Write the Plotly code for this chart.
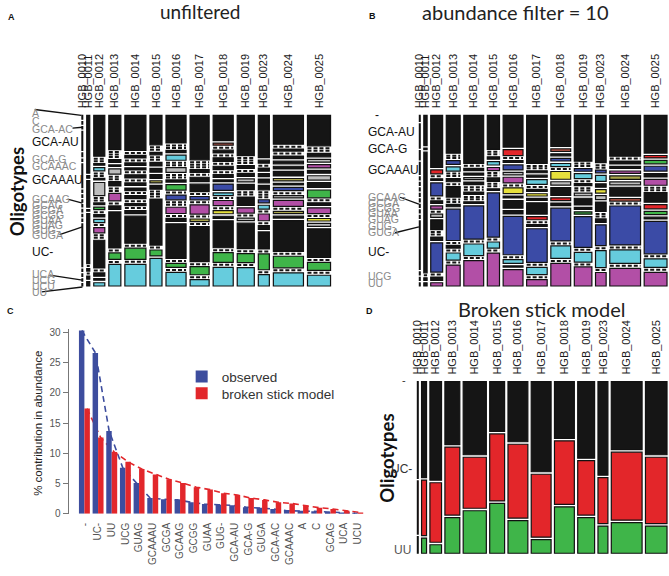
import plotly.graph_objects as go

W, H = 669, 576
FONT = "Liberation Sans, Arial, sans-serif"
TFONT = "Lato, Calibri, sans-serif"

# ---------------- data ----------------
samples = ["HGB_0010", "HGB_0011", "HGB_0012", "HGB_0013", "HGB_0014", "HGB_0015", "HGB_0016",
           "HGB_0017", "HGB_0018", "HGB_0019", "HGB_0023", "HGB_0024", "HGB_0025"]

# relative sample sizes (column widths of the mosaics)
size_A = [0.8, 3, 11, 12, 21, 12, 20, 19, 20, 17, 11, 30, 23]
size_B = [0.8, 3.3, 12, 14, 20, 12.3, 20, 20.7, 20, 17.7, 10.7, 31, 23]
size_D = [0.8, 5, 11.7, 15, 23.3, 15, 20, 20, 20, 17, 10, 31, 21.7]

# cell abundances per column, top to bottom; letter = shading class, z = empty cell
cells_A = [
    "k8 k5 k5 k40 k8 k5 k50 k5 k5 k5 k5 k5 k5 k5 k90 k5 k5 k5 k5",
    "k185 k8 k85 k5 k160 z k8 z k10 k14",
    "k125 z z k5 c10 z z k5 s40 z z k5 g8 z k7 c10 z m16 z z k85 z k10 k5 c10",
    "k95 z z z k8 k4 s15 z z k12 z z m21 z k10 k100 z g18 z c60",
    "k110 z k8 z k8 k6 z k10 z k8 k8 z k10 z k6 z k10 k85 z g35 z c68",
    "k80 z z k7 z z k10 k10 k10 o6 k10 z z z k125 z g16 c75",
    "k75 z z k6 c14 z z s13 z z k6 g15 z b13 z z m17 z k8 k94 z g11 z c37",
    "k120 z z z k7 z k12 k20 z b9 z m25 z o7 z k95 z g22 z c17",
    "k73 p6 z k8 z k10 z k10 z k8 k5 b18 c8 z m15 z y9 k6 k78 z g28 z c54",
    "k107 z z z k8 z k8 s8 k14 z z k22 m14 z s7 k68 z g24 z c49",
    "k112 k8 z k8 k8 k10 k12 z z z b8 c10 z m18 z k10 k45 z g42 z c30",
    "k87 z k6 z k8 k8 k8 k14 o7 k5 b10 z s7 m18 z o7 k6 k93 z g35 z c40",
    "k85 z z k10 s8 m9 k8 s12 k14 g22 z k7 m16 z y7 s8 k80 z g22 z c30",
]
cells_B = [
    "k10 k40 k15 k20 k5 k5 k5 k5 k5 k5 k5 k5 k80 k5 k5 k5",
    "k95 k5 k380 z k8 k10",
    "k160 r12 z k5 b40 z k8 m10 z s10 k30 z z k10 b90 z k10 m10",
    "k117 z z b12 c13 z z k10 z k32 z z k7 b97 z k8 z c22 z m65",
    "k145 z k7 k6 s6 k8 z z k7 z z k5 b100 z c35 z m77",
    "k100 z z k7 c10 m9 z z k10 z z k5 b130 z c18 z m97",
    "k95 r18 z k6 b15 s7 m17 z y17 k6 k23 k10 b115 z c11 s4 m49",
    "k150 z z k6 k6 c15 z k6 y7 k6 k35 r10 z k5 b105 z c23 z m20",
    "k92 p7 k6 b8 c9 z y23 s10 k23 r8 k8 b97 z c37 z m67",
    "k137 z z b8 c15 z k6 z z s8 k20 k6 g7 b92 z c29 z m57",
    "k140 z z b8 c18 k10 y10 s12 k28 z z k10 b62 z c50 z m40",
    "k115 z k8 k6 m7 o10 s8 k25 p7 z b110 z c38 z m50",
    "k110 r7 g10 b14 k10 m17 z z k28 r12 g10 k5 b95 z c25 z m40",
]

# broken stick model mosaic: share of "-", "UC-", "UU" per sample
D_dash = [58, 57, 58, 37, 43, 29, 35, 53, 33, 45, 55, 40, 43]
D_uc = [32, 33, 35, 40, 30, 39, 43, 37, 37, 32, 27, 40, 39]
D_uu = [10, 9, 5, 21, 25, 29, 19, 8, 27, 21, 16, 18, 16]

# panel C
oligotypes = ["-", "UC-", "UU", "UCG", "GUAG", "GCAAAU", "GCGA", "GCAAG", "GCGG", "GUAA", "GUG-",
              "GCA-AU", "GCA-G", "GUGA", "GCA-AC", "GCAAAC", "A", "C", "GCAG", "UCA", "UCU"]
observed = [30.3, 26.6, 13.7, 7.6, 5.1, 2.6, 2.4, 2.3, 1.9, 1.6, 1.5, 1.4, 1.1, 1.0, 0.8, 0.5, 0.5,
            0.4, 0.3, 0.2, 0.1]
broken_stick = [17.4, 12.6, 10.2, 8.6, 7.4, 6.5, 5.7, 5.1, 4.4, 4.0, 3.4, 3.1, 2.6, 2.3, 1.9, 1.7,
                1.3, 1.0, 0.8, 0.5, 0.2]

# ---------------- styles ----------------
FILL = {"k": "#151515", "c": "#66CCDD", "g": "#3FB549", "m": "#B24FA6", "b": "#3B4BA6",
        "s": "#BDBDBD", "y": "#E6E03C", "r": "#E3262A", "o": "#A9A44A", "p": "#CF5F4E"}
BLUE, RED = "#3D4D9E", "#E2272B"
GAP = 0.0145


def fx(p):
    return p / W


def fy(p):
    return 1 - p / H


def parse(spec):
    out = []
    for tok in spec.split():
        out.append((0.0, "z") if tok == "z" else (float(tok[1:]), tok[0]))
    return out


fig = go.Figure()


def add_mosaic(n, sizes, columns, col_gap, left_px, right_px, top_px, bottom_px):
    bx, bw, bb, bh, bc = [], [], [], [], []
    zx, zy = [], []
    centers = []
    left = 0.0
    for size, cells in zip(sizes, columns):
        space = 1.0 - GAP * (len(cells) - 1)
        tot = sum(v for v, _ in cells)
        top = 1.0
        for v, code in cells:
            if code == "z":
                zx += [left, left + size, None]
                zy += [top, top, None]
                top -= GAP
                continue
            h = v / tot * space
            bx.append(left + size / 2)
            bw.append(size)
            bb.append(top - h)
            bh.append(h)
            bc.append(FILL[code])
            top -= h + GAP
        centers.append(left + size / 2)
        left += size + col_gap
    total = left - col_gap
    xa, ya = f"x{n}", f"y{n}"
    fig.add_trace(go.Bar(x=bx, y=bh, base=bb, width=bw, xaxis=xa, yaxis=ya,
                         marker=dict(color=bc, line=dict(color="#111111", width=1.2)),
                         showlegend=False, hoverinfo="skip"))
    fig.add_trace(go.Scatter(x=zx, y=zy, mode="lines", xaxis=xa, yaxis=ya,
                             line=dict(color="#151515", width=2, dash="4px,2px"),
                             showlegend=False, hoverinfo="skip"))
    scale = (right_px - left_px) / total
    pad = 1.5
    ypad = 0.012
    hp = bottom_px - top_px
    fig.layout[f"xaxis{n}"] = dict(
        domain=[fx(left_px - pad * scale), fx(right_px + pad * scale)],
        range=[-pad, total + pad], anchor=ya, side="top",
        tickmode="array", tickvals=centers, ticktext=samples, tickangle=-90,
        ticks="", ticklabelstandoff=4, showgrid=False, zeroline=False, showline=False,
        tickfont=dict(family=FONT, size=11, color="#1a1a1a"))
    fig.layout[f"yaxis{n}"] = dict(
        domain=[fy(bottom_px + ypad * hp), fy(top_px - ypad * hp)],
        range=[-ypad, 1 + ypad], anchor=xa, visible=False)


add_mosaic(1, size_A, [parse(s) for s in cells_A], 4.0, 77.5, 328, 115, 288)
add_mosaic(2, size_B, [parse(s) for s in cells_B], 3.67, 417.5, 667, 115, 288)
cols_D = [[(a, "k"), (b, "r"), (c, "g")] for a, b, c in zip(D_dash, D_uc, D_uu)]
add_mosaic(3, size_D, cols_D, 3.4, 415.5, 667, 385, 559)

# ---------------- panel C ----------------
idx = list(range(len(oligotypes)))
off = 0.19
fig.add_trace(go.Scatter(x=[i - off for i in idx], y=observed, mode="lines", xaxis="x4", yaxis="y4",
                         line=dict(color=BLUE, width=1.6, dash="6px,4px"), showlegend=False,
                         hoverinfo="skip"))
fig.add_trace(go.Scatter(x=[i + off for i in idx], y=broken_stick, mode="lines", xaxis="x4", yaxis="y4",
                         line=dict(color=RED, width=1.6, dash="6px,4px"), showlegend=False,
                         hoverinfo="skip"))
fig.add_trace(go.Bar(x=idx, y=observed, name="observed", marker=dict(color=BLUE, line=dict(width=0)),
                     xaxis="x4", yaxis="y5", legend="legend", hoverinfo="skip"))
fig.add_trace(go.Bar(x=idx, y=broken_stick, name="broken stick model",
                     marker=dict(color=RED, line=dict(width=0)),
                     xaxis="x4", yaxis="y5", legend="legend2", hoverinfo="skip"))

step = 13.77
x_lo, x_hi = -1.16, 20.6
c_left = 80 + x_lo * step
c_right = 80 + x_hi * step
ytop = 30.6
ppu = (519 - 335) / 30.0
fig.layout["xaxis4"] = dict(domain=[fx(c_left), fx(c_right)], range=[x_lo, x_hi], anchor="y4",
                            tickmode="array", tickvals=idx, ticktext=oligotypes, tickangle=-90,
                            ticks="", ticklabelstandoff=6, showgrid=False, zeroline=False,
                            showline=False, tickfont=dict(family=FONT, size=10, color="#555555"))
c_dom = [fy(519), fy(519 - ytop * ppu)]
fig.layout["yaxis4"] = dict(domain=c_dom, range=[0, ytop], anchor="x4", tickmode="array",
                            tickvals=[0, 5, 10, 15, 20, 25, 30], ticks="outside", ticklen=5,
                            tickcolor="#777777", showline=True, linecolor="#777777", linewidth=1,
                            showgrid=False, zeroline=False,
                            tickfont=dict(family=FONT, size=10, color="#555555"))
fig.layout["yaxis5"] = dict(domain=c_dom, range=[0, ytop], overlaying="y4", anchor="x4", visible=False)

fig.update_layout(
    width=W, height=H, autosize=False, margin=dict(l=0, r=0, t=0, b=0),
    paper_bgcolor="white", plot_bgcolor="rgba(0,0,0,0)", barmode="group", bargap=0.2,
    legend=dict(x=fx(178), y=fy(380), xanchor="left", yanchor="middle", bgcolor="rgba(0,0,0,0)",
                font=dict(family=FONT, size=13.5, color="#333333")),
    legend2=dict(x=fx(178), y=fy(397), xanchor="left", yanchor="middle", bgcolor="rgba(0,0,0,0)",
                 font=dict(family=FONT, size=13.5, color="#333333")),
)

ann = []


def text(t, xp, yp, size, color="#222222", family=FONT, xanchor="left", bold=False, angle=0):
    ann.append(dict(text=f"<b>{t}</b>" if bold else t, x=fx(xp), y=fy(yp), xref="paper", yref="paper",
                    showarrow=False, xanchor=xanchor, yanchor="middle", textangle=angle,
                    font=dict(family=family, size=size, color=color)))


# titles and panel letters
text("unfiltered", 196, 10, 19, xanchor="center", family=TFONT)
text("abundance filter = 10", 514, 10, 20, xanchor="center", family=TFONT)
text("Broken stick model", 541, 311, 20, xanchor="center", family=TFONT)
for L, xp, yp in [("A", 7, 15), ("B", 370, 14), ("C", 6, 313), ("D", 367, 313)]:
    text(L, xp, yp, 9, color="#111111", bold=True, xanchor="center")
text("Oligotypes", 12, 192, 18.5, color="#111111", family=TFONT, bold=True, xanchor="center", angle=-90)
text("Oligotypes", 384, 463, 18.5, color="#111111", family=TFONT, bold=True, xanchor="center", angle=-90)
text("% contribution in abundance", 33, 427, 11.5, color="#222222", xanchor="center", angle=-90)

GRAY = "#8a8a8a"
labels_A = [("A", 113, 0), ("C", 121, 0), ("GCA-AC", 129, 0), ("GCA-AU", 142, 1), ("GCA-G", 159, 0),
            ("GCAAAC", 166, 0), ("GCAAAU", 180, 1), ("GCAAG", 200, 0), ("GCAG", 206, 0), ("GCGA", 211, 0),
            ("GCGG", 216, 0), ("GUAA", 221, 0), ("GUAG", 226, 0), ("GUG-", 231, 0), ("GUGA", 236, 0),
            ("UC-", 254, 1), ("UCA", 276, 0), ("UCG", 282, 0), ("UCU", 288, 0), ("UU", 294, 0)]
for t, yp, big in labels_A:
    text(t, 25, yp, 12 if big else 10.5, color="#111111" if big else GRAY)

labels_B = [("-", 115, 1), ("GCA-AU", 132, 1), ("GCA-G", 149, 1), ("GCAAAU", 170, 1), ("GCAAG", 198, 0),
            ("GCGA", 204, 0), ("GCGG", 209, 0), ("GUAA", 214, 0), ("GUAG", 220, 0), ("GUG-", 227, 0),
            ("GUGA", 233, 0), ("UC-", 254, 1), ("UCG", 278, 0), ("UU", 285, 0)]
for t, yp, big in labels_B:
    text(t, 364 if t != "-" else 371, yp, 12 if big else 10.5, color="#111111" if big else GRAY)

text("-", 406, 383, 11, color="#333333", xanchor="right")
text("UC-", 412, 474, 12, color="#333333", xanchor="right")
text("UU", 411, 556, 12, color="#555555", xanchor="right")

shapes = []


def seg(x0, y0, x1, y1):
    shapes.append(dict(type="line", xref="paper", yref="paper", x0=fx(x0), y0=fy(y0), x1=fx(x1), y1=fy(y1),
                       line=dict(color="#111111", width=1.3)))


for a in [(30, 109, 77, 115), (68, 128, 78, 127), (63, 200, 78, 204), (55, 236, 78, 228),
          (45, 277, 78, 282), (37, 294, 78, 289), (398, 198, 417, 205), (393, 234, 417, 228)]:
    seg(*a)

fig.update_layout(annotations=ann, shapes=shapes)
fig.write_html("out.html", config={"displayModeBar": False},
               post_script="document.body.style.margin='0';document.body.style.overflow='hidden';")
